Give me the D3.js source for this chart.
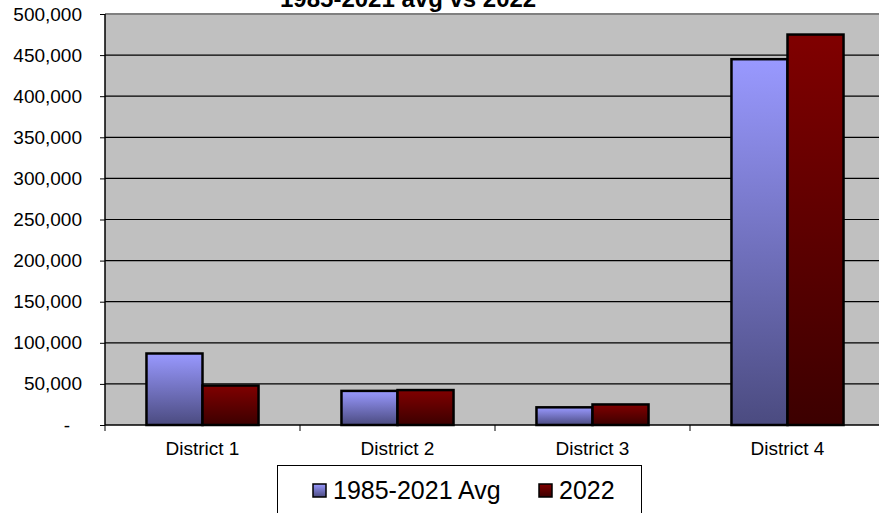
<!DOCTYPE html>
<html>
<head>
<meta charset="utf-8">
<script src="https://cdn.jsdelivr.net/npm/d3@7"></script>
<style>
  body { margin: 0; background: #fff; }
  svg { display: block; font-family: "Liberation Sans", Arial, sans-serif; }
</style>
</head>
<body>
<div id="container"></div>
<script>
var width = 879,
    height = 513;

// data
var districts = ["District 1", "District 2", "District 3", "District 4"];
var series = ["1985-2021 Avg", "2022"];
var avgValues = [87000, 41500, 21500, 445000];
var values2022 = [48000, 42500, 25000, 475000];
var yTicks = [0, 50000, 100000, 150000, 200000, 250000, 300000, 350000, 400000, 450000, 500000];
var chartTitle = "1985-2021 avg vs 2022";

var colors = {
  "1985-2021 Avg": ["#9999FF", "#4B4B80"],
  "2022": ["#800000", "#3C0000"]
};

var rows = districts.map(function(d, i) {
  return { district: d, vals: [
    { key: series[0], value: avgValues[i] },
    { key: series[1], value: values2022[i] }
  ]};
});

var margin = { left: 105, top: 14, bottom: 425 };

var svg = d3.select("#container")
  .append("svg")
  .attr("width", width)
  .attr("height", height);

var defs = svg.append("defs");
series.forEach(function(s, i) {
  var g = defs.append("linearGradient")
    .attr("id", "grad" + i)
    .attr("x1", "0%").attr("y1", "0%")
    .attr("x2", "0%").attr("y2", "100%");
  g.append("stop").attr("offset", "0%").attr("stop-color", colors[s][0]);
  g.append("stop").attr("offset", "100%").attr("stop-color", colors[s][1]);
});

var x = d3.scaleBand()
  .domain(districts)
  .range([margin.left, margin.left + 4 * 195]);

var x1 = d3.scaleBand()
  .domain(series)
  .range([0, x.bandwidth()])
  .paddingOuter(0.74);

var y = d3.scaleLinear()
  .domain([0, 500000])
  .range([margin.bottom, margin.top]);

// plot background
svg.append("rect")
  .attr("x", margin.left)
  .attr("y", margin.top)
  .attr("width", width - margin.left)
  .attr("height", margin.bottom - margin.top)
  .attr("fill", "#C0C0C0");

// gridlines
svg.append("g")
  .selectAll("line")
  .data(yTicks.filter(function(d) { return d > 0 && d < 500000; }))
  .enter().append("line")
  .attr("x1", margin.left).attr("x2", width)
  .attr("y1", function(d) { return y(d); })
  .attr("y2", function(d) { return y(d); })
  .attr("stroke", "#000")
  .attr("stroke-width", 1.2);

// top border
svg.append("line")
  .attr("x1", margin.left).attr("x2", width)
  .attr("y1", margin.top).attr("y2", margin.top)
  .attr("stroke", "#808080")
  .attr("stroke-width", 2);

// bars
var groups = svg.append("g")
  .selectAll("g")
  .data(rows)
  .enter().append("g")
  .attr("transform", function(d) { return "translate(" + x(d.district) + ",0)"; });

groups.selectAll("rect")
  .data(function(d) { return d.vals; })
  .enter().append("rect")
  .attr("x", function(d) { return x1(d.key); })
  .attr("y", function(d) { return y(d.value); })
  .attr("width", x1.bandwidth())
  .attr("height", function(d) { return y(0) - y(d.value); })
  .attr("fill", function(d) { return "url(#grad" + series.indexOf(d.key) + ")"; })
  .attr("stroke", "#000")
  .attr("stroke-width", 2.5);

// y axis
var yAxis = d3.axisLeft(y)
  .tickValues(yTicks)
  .tickSize(5)
  .tickPadding(18)
  .tickFormat(function(d) { return d === 0 ? "-" : d3.format(",")(d); });

var yg = svg.append("g")
  .attr("transform", "translate(" + margin.left + ",0)")
  .call(yAxis);

yg.select(".domain").attr("stroke", "#000").attr("stroke-width", 1.5)
  .attr("d", "M0," + margin.top + "V" + margin.bottom);
yg.selectAll(".tick line").attr("stroke", "#000");
yg.selectAll(".tick text")
  .attr("fill", "#000")
  .style("font-size", "19px")
  .attr("dx", function(d) { return d === 0 ? -12 : 0; });

// x axis
var xAxis = d3.axisBottom(x)
  .tickSize(0)
  .tickPadding(17);

var xg = svg.append("g")
  .attr("transform", "translate(0," + margin.bottom + ")")
  .call(xAxis);

xg.select(".domain").attr("stroke", "#000").attr("stroke-width", 1.5)
  .attr("d", "M" + margin.left + ",0H" + width);
xg.selectAll(".tick text")
  .attr("fill", "#000")
  .style("font-size", "19px");

xg.selectAll(".bound")
  .data(districts.concat(["end"]))
  .enter().append("line")
  .attr("class", "bound")
  .attr("x1", function(d, i) { return margin.left + i * x.bandwidth(); })
  .attr("x2", function(d, i) { return margin.left + i * x.bandwidth(); })
  .attr("y1", 0).attr("y2", 6)
  .attr("stroke", "#000");

// title
svg.append("text")
  .attr("x", 280)
  .attr("y", 7)
  .attr("font-weight", "bold")
  .style("font-size", "24px")
  .attr("fill", "#000")
  .text(chartTitle);

// legend
var legend = svg.append("g");

legend.append("rect")
  .attr("x", 277.5)
  .attr("y", 465.5)
  .attr("width", 364)
  .attr("height", 60)
  .attr("fill", "#fff")
  .attr("stroke", "#000");

var legendX = [313, 539];
series.forEach(function(s, i) {
  legend.append("rect")
    .attr("x", legendX[i])
    .attr("y", 484)
    .attr("width", 13)
    .attr("height", 13)
    .attr("fill", "url(#grad" + i + ")")
    .attr("stroke", "#000")
    .attr("stroke-width", 1.5);
  legend.append("text")
    .attr("x", legendX[i] + 20)
    .attr("y", 499)
    .style("font-size", "25px")
    .attr("fill", "#000")
    .text(s);
});
</script>
</body>
</html>
